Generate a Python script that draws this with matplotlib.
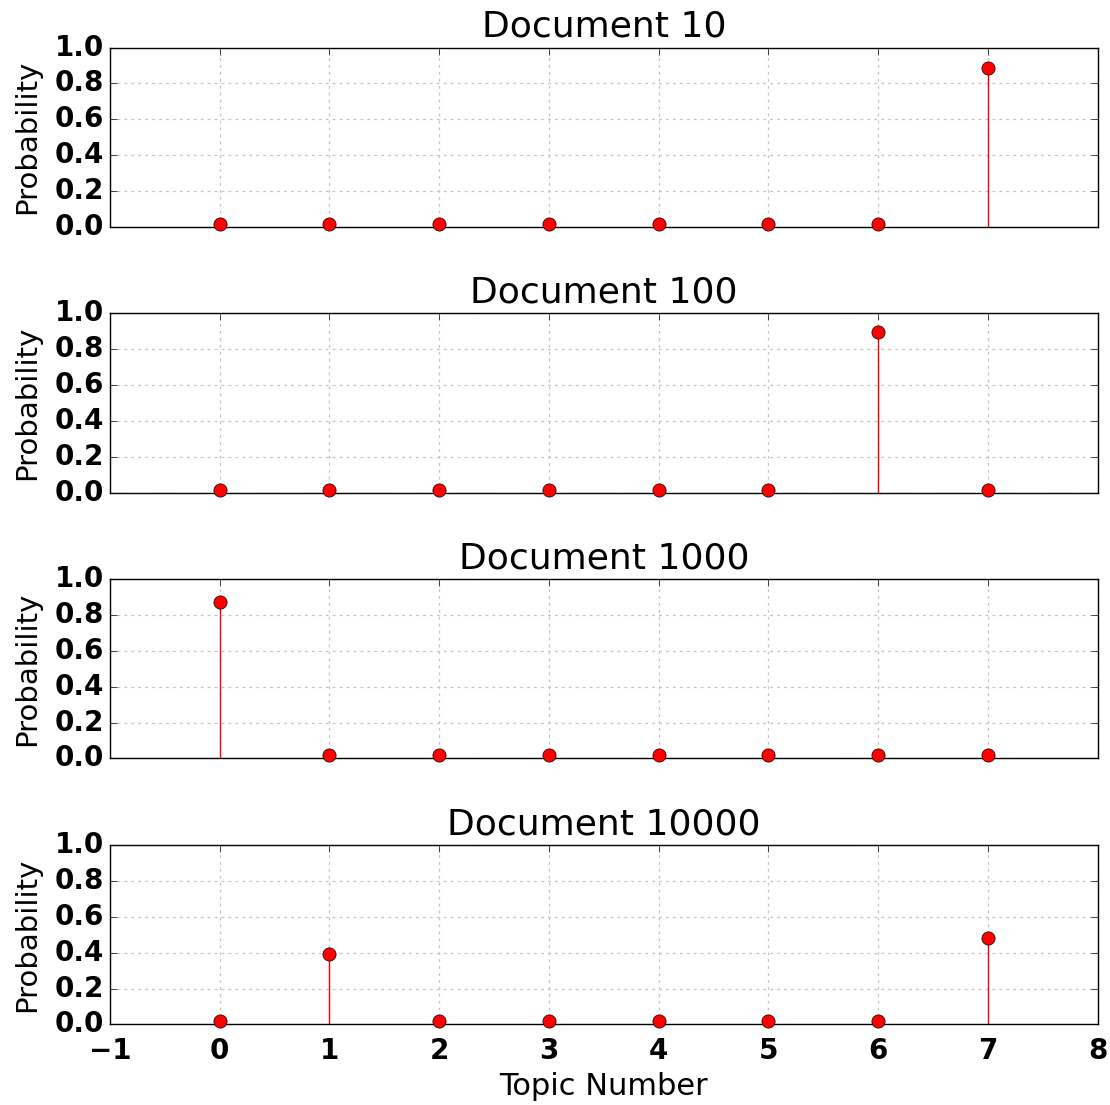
import matplotlib
matplotlib.use("Agg")
import matplotlib.pyplot as plt
import numpy as np

topics = [0, 1, 2, 3, 4, 5, 6, 7]
doc_names = ["Document 10", "Document 100", "Document 1000", "Document 10000"]
doc10 = [0.016, 0.016, 0.016, 0.016, 0.016, 0.016, 0.016, 0.888]
doc100 = [0.014, 0.014, 0.014, 0.014, 0.014, 0.014, 0.899, 0.014]
doc1000 = [0.871, 0.018, 0.018, 0.018, 0.018, 0.018, 0.018, 0.018]
doc10000 = [0.018, 0.391, 0.018, 0.018, 0.018, 0.018, 0.018, 0.480]
probs = [doc10, doc100, doc1000, doc10000]

plt.style.use("classic")
plt.rcParams["figure.facecolor"] = "white"
plt.rcParams["font.family"] = "DejaVu Sans"

fig, axes = plt.subplots(4, 1, figsize=(11.1, 11.05), dpi=100, sharex=True)
fig.subplots_adjust(left=0.099, right=0.989, top=0.957, bottom=0.073, hspace=0.485)

for ax, name, p in zip(axes, doc_names, probs):
    ax.set_axisbelow(True)
    markerline, stemlines, baseline = ax.stem(topics, p, linefmt="r-", markerfmt="ro", basefmt="r-")
    markerline.set_markersize(9.5)
    markerline.set_markeredgecolor("k")
    markerline.set_markeredgewidth(0.5)
    markerline.set_clip_on(False)
    markerline.set_zorder(4)
    stemlines.set_linewidth(1.0)
    stemlines.set_zorder(3)
    baseline.set_visible(False)
    ax.set_xlim(-1, 8)
    ax.set_ylim(0, 1)
    ax.set_title(name, fontsize=26, pad=8)
    ax.set_ylabel("Probability", fontsize=21, labelpad=10)
    ax.grid(True, color="#c4c4c4", linestyle=(0, (2, 3)), linewidth=0.9)
    ax.tick_params(labelsize=20, direction="in", length=5, top=True, right=True)
    ax.tick_params(axis="x", pad=9)
    for lbl in ax.get_yticklabels() + ax.get_xticklabels():
        lbl.set_fontweight("bold")

axes[-1].set_xlabel("Topic Number", fontsize=22, labelpad=5)
for ax in axes[:-1]:
    ax.tick_params(labelbottom=False)

fig.savefig("out.png", dpi=100)
